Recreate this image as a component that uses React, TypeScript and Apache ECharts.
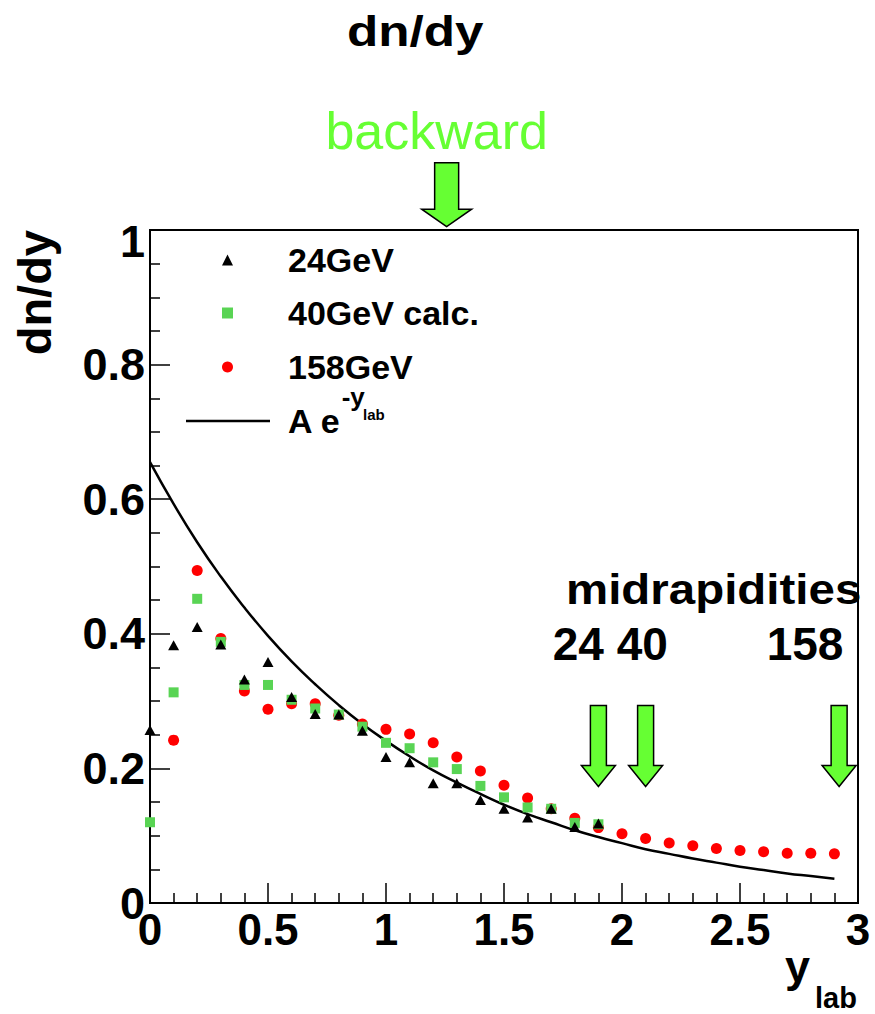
import { useEffect, useRef } from "react";
import * as echarts from "echarts";

// ---- data ----
const rapidity24 = [0.0, 0.1, 0.2, 0.3, 0.4, 0.5, 0.6, 0.7, 0.8, 0.9, 1.0, 1.1, 1.2, 1.3, 1.4, 1.5, 1.6, 1.7, 1.8, 1.9];
const dndy24 = [0.257, 0.383, 0.41, 0.384, 0.332, 0.358, 0.306, 0.281, 0.28, 0.256, 0.217, 0.209, 0.178, 0.178, 0.153, 0.14, 0.127, 0.14, 0.113, 0.118];

const rapidity40 = [0.0, 0.1, 0.2, 0.3, 0.4, 0.5, 0.6, 0.7, 0.8, 0.9, 1.0, 1.1, 1.2, 1.3, 1.4, 1.5, 1.6, 1.7, 1.8, 1.9];
const dndy40 = [0.12, 0.313, 0.452, 0.388, 0.324, 0.324, 0.302, 0.289, 0.28, 0.262, 0.238, 0.23, 0.209, 0.199, 0.174, 0.157, 0.142, 0.14, 0.119, 0.117];

const rapidity158 = [0.1, 0.2, 0.3, 0.4, 0.5, 0.6, 0.7, 0.8, 0.9, 1.0, 1.1, 1.2, 1.3, 1.4, 1.5, 1.6, 1.7, 1.8, 1.9, 2.0, 2.1, 2.2, 2.3, 2.4, 2.5, 2.6, 2.7, 2.8, 2.9];
const dndy158 = [0.242, 0.494, 0.393, 0.315, 0.288, 0.296, 0.296, 0.279, 0.266, 0.258, 0.251, 0.238, 0.217, 0.196, 0.175, 0.156, 0.14, 0.126, 0.112, 0.103, 0.096, 0.089, 0.085, 0.081, 0.078, 0.076, 0.074, 0.074, 0.073];

const fitRapidity = [0.0, 0.1, 0.2, 0.3, 0.4, 0.5, 0.6, 0.7, 0.8, 0.9, 1.0, 1.1, 1.2, 1.3, 1.4, 1.5, 1.6, 1.7, 1.8, 1.9, 2.0, 2.1, 2.2, 2.3, 2.4, 2.5, 2.6, 2.7, 2.8, 2.9];
const fitValues = [0.655, 0.593, 0.536, 0.485, 0.439, 0.397, 0.359, 0.325, 0.294, 0.266, 0.241, 0.218, 0.197, 0.179, 0.162, 0.146, 0.132, 0.12, 0.108, 0.098, 0.089, 0.08, 0.073, 0.066, 0.06, 0.054, 0.049, 0.044, 0.04, 0.036];

const midrapidityX = [1.9, 2.1, 2.92];
const midArrowTipY = [0.173, 0.173, 0.173];
const backwardX = [1.257];
const backwardTipY = [1.005];

const seriesNames = ["24GeV", "40GeV calc.", "158GeV", "A e"];

const FONT = '"Liberation Sans", Arial, Helvetica, sans-serif';
const GREEN_ARROW = "#66ff33";

const zip = (xs: number[], ys: number[]) => xs.map((x, i) => [x, ys[i]]);

export default function App() {
  const ref = useRef<HTMLDivElement>(null);

  useEffect(() => {
    if (!ref.current) return;
    const chart = echarts.init(ref.current, null, { renderer: "svg" });

    const arrowRender = (L: number, H: number, sw: number, hw: number) => (params: any, api: any) => {
      const p = api.coord([api.value(0), api.value(1)]);
      const tx = p[0];
      const ty = p[1];
      const points = [
        [tx, ty],
        [tx - hw, ty - H],
        [tx - sw, ty - H],
        [tx - sw, ty - L],
        [tx + sw, ty - L],
        [tx + sw, ty - H],
        [tx + hw, ty - H],
      ];
      return {
        type: "polygon",
        shape: { points },
        style: { fill: GREEN_ARROW, stroke: "#000", lineWidth: 1.5 },
      };
    };

    const legendBase = {
      orient: "horizontal",
      padding: 0,
      itemHeight: 11,
      selectedMode: false,
      textStyle: { fontSize: 34, fontWeight: "bold", color: "#000", fontFamily: FONT, padding: [0, 0, 0, 50] },
    };

    const txt = (text: string, x: number, y: number, fontSize: number, extra: any = {}) => ({
      type: "text",
      x,
      y,
      silent: true,
      ...extra,
      style: {
        text,
        fontSize,
        fontWeight: "bold",
        fontFamily: FONT,
        fill: "#000",
        align: "left",
        verticalAlign: "middle",
        ...(extra.style || {}),
      },
    });

    const tickFont = { fontSize: 45, fontWeight: "bold", color: "#000", fontFamily: FONT };

    chart.setOption({
      animation: false,
      backgroundColor: "#fff",
      grid: {
        left: 150,
        top: 230,
        width: 708,
        height: 673,
        show: true,
        borderColor: "#000",
        borderWidth: 2,
        backgroundColor: "transparent",
      },
      xAxis: {
        type: "value",
        min: 0,
        max: 3,
        interval: 0.5,
        axisLine: { show: true, onZero: false, lineStyle: { color: "#000", width: 2 } },
        axisTick: { show: true, inside: true, length: 20, lineStyle: { color: "#000", width: 1.5 } },
        minorTick: { show: true, splitNumber: 5, length: 10, lineStyle: { color: "#000", width: 1.5 } },
        splitLine: { show: false },
        minorSplitLine: { show: false },
        axisLabel: { fontSize: 44, fontWeight: "bold", color: "#000", fontFamily: FONT, margin: 4 },
      },
      yAxis: {
        type: "value",
        min: 0,
        max: 1,
        interval: 0.2,
        axisLine: { show: true, onZero: false, lineStyle: { color: "#000", width: 2 } },
        axisTick: { show: true, inside: true, length: 20, lineStyle: { color: "#000", width: 1.5 } },
        minorTick: { show: true, splitNumber: 4, length: 10, lineStyle: { color: "#000", width: 1.5 } },
        splitLine: { show: false },
        minorSplitLine: { show: false },
        axisLabel: {
          ...tickFont,
          margin: 5,
          formatter: (v: number) => (v === 1 ? "{top|1}" : String(v)),
          rich: { top: { ...tickFont, padding: [22, 0, 0, 0] } },
        },
      },
      legend: [
        { ...legendBase, data: [{ name: seriesNames[0], icon: "triangle" }], left: 222, top: 243, itemWidth: 11 },
        { ...legendBase, data: [{ name: seriesNames[1], icon: "rect" }], left: 222, top: 296, itemWidth: 11 },
        { ...legendBase, data: [{ name: seriesNames[2], icon: "circle" }], left: 222, top: 350, itemWidth: 11 },
        {
          ...legendBase,
          data: [{ name: seriesNames[3], icon: "rect" }],
          left: 186,
          top: 404,
          itemWidth: 84,
          itemHeight: 2.5,
          textStyle: { ...legendBase.textStyle, padding: [0, 0, 0, 13] },
        },
      ],
      series: [
        {
          name: seriesNames[3],
          type: "line",
          data: zip(fitRapidity, fitValues),
          symbol: "none",
          smooth: true,
          lineStyle: { color: "#000", width: 2.5 },
          itemStyle: { color: "#000" },
          z: 1,
        },
        {
          name: seriesNames[2],
          type: "scatter",
          data: zip(rapidity158, dndy158),
          symbol: "circle",
          symbolSize: 11,
          itemStyle: { color: "#ff0000", opacity: 1 },
          z: 2,
        },
        {
          name: seriesNames[1],
          type: "scatter",
          data: zip(rapidity40, dndy40),
          symbol: "rect",
          symbolSize: 10,
          itemStyle: { color: "#59d454", opacity: 1 },
          z: 3,
        },
        {
          name: seriesNames[0],
          type: "scatter",
          data: zip(rapidity24, dndy24),
          symbol: "triangle",
          symbolSize: [11, 10],
          itemStyle: { color: "#000", opacity: 1 },
          z: 4,
        },
        {
          name: "midrapidity arrows",
          type: "custom",
          clip: false,
          silent: true,
          data: zip(midrapidityX, midArrowTipY),
          renderItem: arrowRender(81, 21, 8, 17),
          z: 5,
        },
        {
          name: "backward arrow",
          type: "custom",
          clip: false,
          silent: true,
          data: zip(backwardX, backwardTipY),
          renderItem: arrowRender(64, 17.5, 12, 25),
          z: 5,
        },
      ],
      graphic: [
        txt("dn/dy", 415.3, 32, 42, { scaleX: 1.22, style: { align: "center" } }),
        txt("backward", 436.7, 131, 52, { style: { align: "center", fontWeight: "normal", fill: GREEN_ARROW } }),
        txt("dn/dy", 34.5, 230, 47, { rotation: Math.PI / 2, style: { align: "right" } }),
        txt("midrapidities", 566, 588.7, 42, { scaleX: 1.13 }),
        txt("24 40", 552.7, 644, 46),
        txt("158", 766.7, 644, 46),
        txt("y", 785, 966.4, 45),
        txt("lab", 815, 998, 29),
        txt("-y", 341.7, 397.2, 26),
        txt("lab", 363, 414, 15),
      ],
    });

    return () => chart.dispose();
  }, []);

  return (
    <div
      ref={ref}
      style={{ position: "fixed", left: 0, top: 0, width: 875, height: 1014, background: "#fff" }}
    />
  );
}
